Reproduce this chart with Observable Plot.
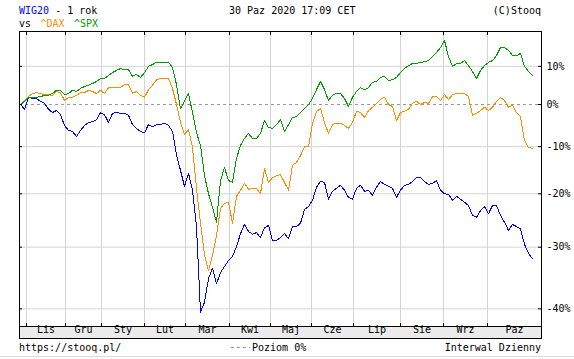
<!DOCTYPE html>
<html><head><meta charset="utf-8">
<script src="https://cdn.jsdelivr.net/npm/d3@7"></script>
<script src="https://cdn.jsdelivr.net/npm/@observablehq/plot@0.6"></script>
<style>
html,body{margin:0;padding:0;background:#fff;}
svg{display:block;}
</style></head><body><div id="chart"></div>
<script>
// month labels and month-start positions (in trading-day index units)
const monthLabels = ["Lis","Gru","Sty","Lut","Mar","Kwi","Maj","Cze","Lip","Sie","Wrz","Paz"];
const monthStarts = [3,22.5,40.5,62,82.5,104.5,125,145.5,166.5,190,211.5,233.5];
const axisEnd = 260.5;
const yTicks = [10,0,-10,-20,-30,-40];
const daysPerSample = 2;
// change vs start, in %, sampled every 2 trading days
const wig20 = [0,-1.2,1.8,1.5,1.5,0.8,0.3,-1.2,-2.0,-1.5,
-2.5,-5.1,-6.3,-6.5,-7.7,-6.3,-5.1,-4.4,-4.2,-3.7,
-2.0,-2.5,-4.4,-2.2,-2.0,-2.2,-2.2,-2.7,-4.9,-5.8,
-6.5,-6.8,-4.9,-5.4,-4.9,-4.9,-4.6,-5.1,-6.5,-11.8,
-15.2,-18.5,-15.8,-19.3,-26.3,-40.5,-39.0,-35.3,-33.6,-36.1,
-34.3,-33.3,-32.3,-31.6,-29.9,-27.6,-25.9,-27.2,-27.7,-27.4,
-28.3,-26.5,-26.1,-28.8,-28.8,-28.3,-27.6,-28.5,-26.3,-26.3,
-25.7,-23.1,-22.5,-21.3,-18.7,-17.5,-17.7,-21.1,-19.5,-18.9,
-18.3,-19.3,-20.7,-21.1,-18.9,-18.3,-19.5,-19.3,-20.3,-18.7,
-17.5,-18.1,-18.5,-18.9,-20.7,-19.3,-18.3,-18.1,-17.5,-16.7,
-16.7,-17.5,-18.1,-17.9,-17.3,-19.3,-20.0,-20.1,-21.3,-20.5,
-21.1,-21.7,-22.3,-24.2,-24.6,-23.3,-22.5,-23.9,-22.3,-22.3,
-24.2,-25.5,-27.0,-25.9,-26.3,-26.7,-29.5,-31.1,-32.0];
const dax = [0,1.0,2.0,2.8,3.0,2.8,2.5,2.5,2.3,3.3,
3.0,1.0,1.8,1.8,2.3,3.0,3.0,3.6,3.3,2.8,
3.6,2.8,4.3,4.3,4.3,4.3,5.1,5.1,2.8,3.3,
2.3,1.8,3.8,4.9,6.4,6.7,6.7,6.7,4.1,0,
-4.4,-7.2,-6.1,-10.2,-18.9,-25.7,-31.4,-34.0,-31.4,-27.9,
-22.9,-21.9,-21.7,-25.7,-20.5,-19.3,-17.9,-19.1,-18.9,-18.9,
-20.0,-14.8,-17.7,-16.7,-16.3,-16.1,-17.7,-19.3,-14.1,-13.5,
-12.0,-10.0,-10.0,-4.6,-1.7,-1.0,-4.4,-7.0,-4.9,-4.6,
-4.6,-5.1,-5.8,-4.4,-1.7,-2.0,-3.2,-1.5,-0.7,0.3,
1.3,1.8,0,-0.5,-3.9,-2.0,-1.7,-1.2,0.3,0.8,
0,0.5,0.3,2.0,2.0,1.0,2.5,1.3,2.5,2.8,
2.8,2.8,2.0,-2.7,-2.2,-1.5,-0.7,-1.5,-0.7,0.8,
1.8,1.0,-0.7,-0.2,-2.0,-3.0,-8.6,-10.2,-10.4];
const spx = [0,0.8,1.8,1.8,1.8,2.0,2.3,2.3,2.8,3.6,
3.6,2.5,2.8,3.6,3.3,4.1,4.6,4.9,5.4,5.9,
6.7,6.7,7.5,8.3,8.9,9.4,9.1,9.1,7.3,7.8,
7.0,8.3,10.0,10.5,11.1,11.1,11.1,11.1,9.7,5.1,
-1.0,0.8,2.8,-2.0,-6.8,-9.7,-16.3,-20.0,-22.7,-25.5,
-17.3,-14.6,-17.3,-17.7,-12.6,-9.7,-8.1,-7.0,-8.1,-8.1,
-7.0,-3.9,-5.6,-5.8,-4.9,-3.7,-6.5,-4.9,-3.2,-3.0,
-2.0,-1.0,0,1.5,3.8,5.9,3.8,1.0,2.3,2.8,
2.8,1.5,-0.5,1.8,3.3,4.3,3.8,4.3,5.7,5.9,
7.0,7.3,6.2,6.4,7.0,8.3,9.4,10.2,10.8,10.8,
11.1,11.3,11.6,12.7,13.9,15.3,17.4,12.7,10.0,10.8,
10.8,11.6,10.2,8.6,6.7,8.9,10.2,11.1,11.6,13.0,
15.3,15.3,14.5,13.0,13.0,13.6,10.0,8.6,7.5];
const seriesNames = ["WIG20","^DAX","^SPX"];
const seriesColors = ["#0000ff","#ff8c00","#009900"];

const W = 574, H = 359, mt = 31, mr = 33, mb = 33, ml = 19;
const fw = W - ml - mr, fh = H - mt - mb;
const toRatio = p => 1 + p / 100;
const rows = [wig20, dax, spx].flatMap((vals, k) =>
  vals.map((v, i) => ({name: seriesNames[k], day: i * daysPerSample, r: toRatio(v)})));
const ends = monthStarts.slice(1).concat([axisEnd]);
const labelPos = monthStarts.map((s, i) => (s + ends[i]) / 2);
const font = "DejaVu Sans Mono";

const plot = Plot.plot({
  width: W, height: H,
  marginTop: mt, marginRight: mr, marginBottom: mb, marginLeft: ml,
  style: {fontFamily: font, fontSize: "10px", background: "#fff", overflow: "visible", color: "#000"},
  x: {domain: [-0.5, axisEnd], axis: null},
  y: {type: "log", domain: [0.5741, 1.2002], axis: null},
  color: {domain: seriesNames, range: seriesColors},
  marks: [
    Plot.ruleX(monthStarts, {x: d => d, stroke: "#d4d4d4"}),
    Plot.ruleY(yTicks.filter(t => t !== 0), {y: toRatio, stroke: "#d4d4d4"}),
    Plot.ruleY([1], {stroke: "#999", strokeDasharray: "3,3"}),
    Plot.line(rows, {x: "day", y: "r", z: "name", stroke: "name", strokeWidth: 1, shapeRendering: "crispEdges"}),
    Plot.frame({stroke: "#000"}),
    Plot.ruleX(monthStarts, {x: d => d, stroke: "#000", insetBottom: fh - 4}),
    Plot.ruleX(monthStarts, {x: d => d, stroke: "#000", insetTop: fh - 3}),
    Plot.ruleY(yTicks, {y: toRatio, stroke: "#000", insetLeft: fw - 3}),
    Plot.ruleY(yTicks, {y: toRatio, stroke: "#000", insetRight: fw - 3}),
    Plot.text(yTicks, {y: toRatio, text: d => d + "%", frameAnchor: "right", textAnchor: "start", dx: 5, fill: "#000"}),
    Plot.text(monthLabels, {x: (d, i) => labelPos[i], text: d => d, frameAnchor: "bottom", dy: 6, fill: "#000"})
  ]
});

const svg = d3.select(plot);
svg.insert("rect", ":first-child")
  .attr("x", ml + 0.5).attr("y", H - mb + 0.5).attr("width", fw).attr("height", 12)
  .attr("fill", "#ebebeb").attr("stroke", "#000");

function addText(x, y, parts, anchor = "start") {
  const t = svg.append("text").attr("x", x).attr("y", y)
    .attr("font-family", font).attr("font-size", 10)
    .attr("text-anchor", anchor).style("white-space", "pre");
  parts.forEach(([s, c]) => t.append("tspan").attr("fill", c).text(s));
}
addText(19, 14, [["WIG20", seriesColors[0]], [" - 1 rok", "#000"]]);
addText(229, 14, [["30 Paz 2020 17:09 CET", "#000"]]);
addText(541, 14, [["(C)Stooq", "#000"]], "end");
addText(19, 27, [["vs", "#000"]]);
addText(40.5, 27, [["^DAX", seriesColors[1]]]);
addText(74, 27, [["^SPX", seriesColors[2]]]);
addText(19, 351, [["https://stooq.pl/", "#000"]]);
addText(252, 351, [["Poziom 0%", "#000"]]);
addText(541, 351, [["Interwal Dzienny", "#000"]], "end");
svg.append("line").attr("x1", 231).attr("x2", 250).attr("y1", 347.5).attr("y2", 347.5)
  .attr("stroke", "#999").attr("stroke-dasharray", "3,3");
svg.append("line").attr("x1", 0).attr("x2", W).attr("y1", 356.5).attr("y2", 356.5)
  .attr("stroke", "#dddddd");

document.getElementById("chart").appendChild(plot);
</script>
</body></html>
